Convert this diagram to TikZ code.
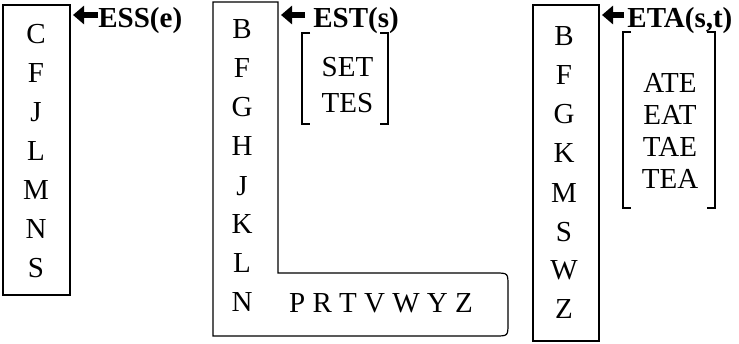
\documentclass[tikz,border=0pt]{standalone}
\usepackage{fontspec}
\setmainfont{Liberation Serif}
\usetikzlibrary{arrows.meta,positioning}

\begin{document}
\begin{tikzpicture}[
        x=0.5pt, y=-0.5pt,
        frame/.style={draw, line width=0.6pt},
        column/.style={align=center, inner sep=0pt, font=\fontsize{14.5}{19.5}\selectfont},
        wordlist/.style={align=center, inner sep=0pt, font=\fontsize{14.5}{16}\selectfont},
        tag/.style={anchor=base west, inner sep=0pt, font=\fontsize{14.5}{17}\selectfont\bfseries},
        fatarrow/.style={-{Triangle[length=5.5pt,width=9pt]}, line width=3pt},
        bracket/.style={line width=0.6pt}
    ]
        \useasboundingbox (0,0) rectangle (739,343);

        % ESS(e)
        \draw[frame] (3,5) rectangle (70,295);
        \node[column] (esscol) at (36,151.5) {C\\F\\J\\L\\M\\N\\S};
        \node[tag] (ess) at (98,27) {ESS(e)};
        \coordinate (esstip) at (73,15);
        \draw[fatarrow] (ess.west |- esstip) -- (esstip);

        % EST(s)
        \draw[frame] (213,2) -- (278,2) -- (278,273) -- (495,273)
            .. controls (508,273) .. (508,286) -- (508,323)
            .. controls (508,336) .. (495,336) -- (213,336) -- cycle;
        \node[column] (estcol) at (242,166) {B\\F\\G\\H\\J\\K\\L\\N};
        \node[column] (estrow) at (381,303) {P R T V W Y Z};
        \node[tag] (est) at (313,27) {EST(s)};
        \coordinate (esttip) at (281,15);
        \draw[fatarrow] ([xshift=-4pt]est.west |- esttip) -- (esttip);
        \draw[bracket] (310,33) -- (302,33) -- (302,124) -- (310,124);
        \draw[bracket] (380,33) -- (388,33) -- (388,124) -- (380,124);
        \node[wordlist, font=\fontsize{14.5}{18}\selectfont] (estwords) at (347.5,85) {SET\\TES};

        % ETA(s,t)
        \draw[frame] (533,5) rectangle (599,341);
        \node[column] (etacol) at (564,173) {B\\F\\G\\K\\M\\S\\W\\Z};
        \node[tag] (eta) at (627,27) {ETA(s,t)};
        \coordinate (etatip) at (602,15);
        \draw[fatarrow] ([xshift=-1.5pt]eta.west |- etatip) -- (etatip);
        \draw[bracket] (631,32) -- (623,32) -- (623,208) -- (631,208);
        \draw[bracket] (707,32) -- (715,32) -- (715,208) -- (707,208);
        \node[wordlist] (etawords) at (670,130.5) {ATE\\EAT\\TAE\\TEA};

    \end{tikzpicture}
\end{document}
